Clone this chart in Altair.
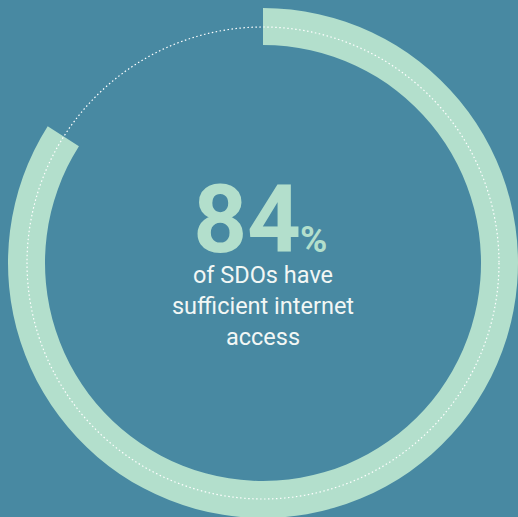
import math
import altair as alt
import pandas as pd

# Data
segments = ["sufficient internet access", "other"]
shares = [84, 16]
fills = ["#B3DFCC", "transparent"]
order_idx = [0, 1]

headline = f"{shares[0]}"
subtitle_lines = ["of SDOs have", "sufficient internet", "access"]

BG = "#4889A2"
MINT = "#B3DFCC"

df = pd.DataFrame({"segment": segments, "share": shares, "fill": fills, "idx": order_idx})

W, H = 518, 517
CX, CY = 263, 263

arc = alt.Chart(df).mark_arc(radius=255, radius2=218).encode(
    theta=alt.Theta("share:Q", stack=True,
                    scale=alt.Scale(domain=[0, sum(shares)], range=[0, 2 * math.pi])),
    order=alt.Order("idx:Q"),
    fill=alt.Fill("fill:N", scale=None),
    x=alt.value(CX), y=alt.value(CY),
)

ring_df = pd.DataFrame({"v": [1]})
ring_r = 236
ring = alt.Chart(ring_df).mark_point(
    shape="circle", filled=False, size=(2 * ring_r) ** 2, stroke="white",
    strokeWidth=1.2, strokeDash=[1.5, 2.5], opacity=1
).encode(x=alt.value(CX), y=alt.value(CY))

txt_df = pd.DataFrame({"t": [headline]})
big = alt.Chart(txt_df).mark_text(
    font="Roboto", fontWeight="bold", fontSize=94, color=MINT, align="right",
    baseline="alphabetic"
).encode(text="t:N", x=alt.value(301), y=alt.value(252))

pct = alt.Chart(txt_df).mark_text(
    font="Roboto", fontWeight="bold", fontSize=37, color=MINT, align="left",
    baseline="alphabetic"
).encode(text=alt.value("%"), x=alt.value(300), y=alt.value(252))

sub = alt.Chart(txt_df).mark_text(
    font="Roboto", fontWeight="normal", fontSize=23.5, color="#F2F7F5", align="center",
    baseline="alphabetic", lineHeight=31
).encode(text=alt.value(subtitle_lines), x=alt.value(CX), y=alt.value(283))

chart = alt.layer(arc, ring, big, pct, sub).properties(
    width=W, height=H, background=BG, padding=0,
    autosize=alt.AutoSizeParams(type="none"),
).configure_view(stroke=None)

chart.save("out.html", embed_options={"renderer": "svg", "actions": False})
